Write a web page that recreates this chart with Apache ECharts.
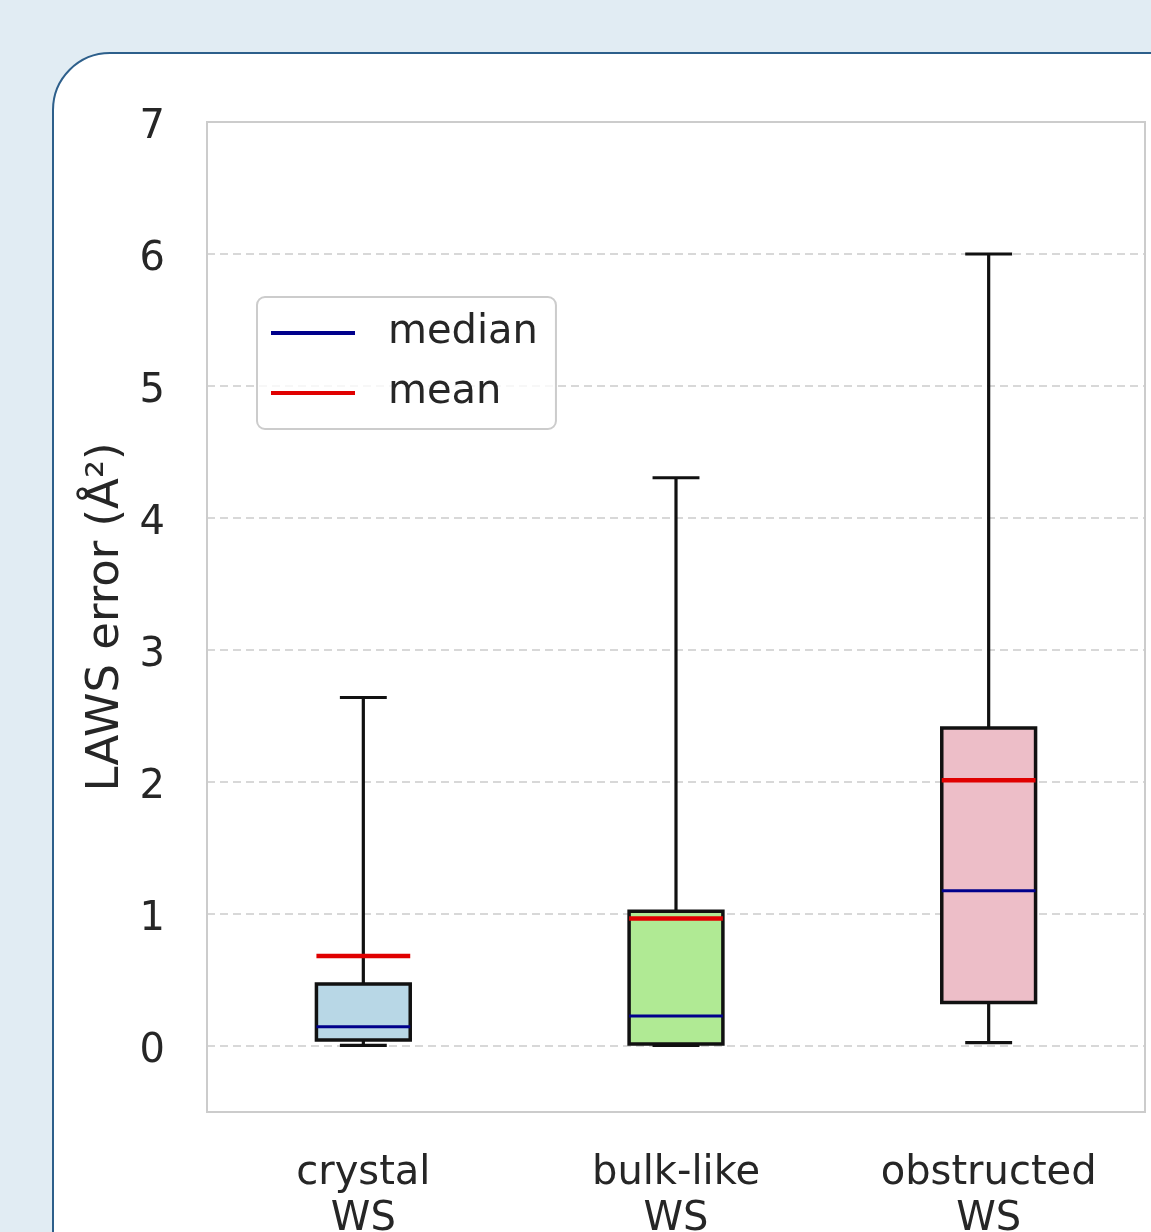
<!DOCTYPE html>
<html>
<head>
<meta charset="utf-8">
<script src="https://cdn.jsdelivr.net/npm/echarts@6/dist/echarts.min.js"></script>
<style>
  html, body { margin: 0; padding: 0; width: 1151px; height: 1232px; overflow: hidden; background: #e1ecf3; }
  #panel {
    position: absolute; left: 52px; top: 52px; width: 1300px; height: 1400px;
    background: #ffffff; border: 2.5px solid #2d5f8b; border-radius: 58px; box-sizing: border-box;
  }
  #chart { position: absolute; left: 0; top: 0; width: 1151px; height: 1232px; }
</style>
</head>
<body>
<div id="panel"></div>
<div id="chart"></div>
<script>
// Categories and per-group statistics (LAWS error, Å²)
const categories = ['crystal\nWS', 'bulk-like\nWS', 'obstructed\nWS'];
const whiskerLow = [0.005, 0.004, 0.025];
const quartile1 = [0.045, 0.015, 0.33];
const medians = [0.145, 0.228, 1.177];
const quartile3 = [0.47, 1.02, 2.41];
const whiskerHigh = [2.64, 4.305, 6.0];
const means = [0.682, 0.965, 2.013];
const gridValues = [0, 1, 2, 3, 4, 5, 6];

const boxFills = ['#b8d7e6', '#b0ea94', '#edbec8'];
const FONT = 'DejaVu Sans';
const TEXT = '#262626';
const BOX_FRAC = 0.3;

const chart = echarts.init(document.getElementById('chart'), null, { renderer: 'canvas' });

function renderGrid(params, api) {
  const cs = params.coordSys;
  const y = api.coord([0, api.value(0)])[1];
  return {
    type: 'line',
    shape: { x1: cs.x, y1: y, x2: cs.x + cs.width, y2: y },
    style: { stroke: '#cccccc', lineWidth: 1.6, lineDash: [8, 5] }
  };
}

function renderBox(params, api) {
  const i = api.value(0);
  const lo = api.coord([i, api.value(1)]);
  const q1 = api.coord([i, api.value(2)]);
  const q3 = api.coord([i, api.value(4)]);
  const hi = api.coord([i, api.value(5)]);
  const bw = api.size([1, 0])[0] * BOX_FRAC;
  const x = lo[0];
  const stroke = { stroke: '#111111', lineWidth: 3.2 };
  return {
    type: 'group',
    children: [
      { type: 'line', shape: { x1: x, y1: hi[1], x2: x, y2: q3[1] }, style: stroke },
      { type: 'line', shape: { x1: x, y1: q1[1], x2: x, y2: lo[1] }, style: stroke },
      { type: 'line', shape: { x1: x - bw / 4, y1: hi[1], x2: x + bw / 4, y2: hi[1] }, style: stroke },
      { type: 'line', shape: { x1: x - bw / 4, y1: lo[1], x2: x + bw / 4, y2: lo[1] }, style: stroke },
      { type: 'rect', shape: { x: x - bw / 2, y: q3[1], width: bw, height: q1[1] - q3[1] },
        style: { fill: boxFills[i], stroke: '#111111', lineWidth: 3.5 } }
    ]
  };
}

function lineRenderer(color, width) {
  return function (params, api) {
    const i = api.value(0);
    const p = api.coord([i, api.value(1)]);
    const bw = api.size([1, 0])[0] * BOX_FRAC;
    return {
      type: 'line',
      shape: { x1: p[0] - bw / 2, y1: p[1], x2: p[0] + bw / 2, y2: p[1] },
      style: { stroke: color, lineWidth: width }
    };
  };
}

const option = {
  backgroundColor: 'transparent',
  animation: false,
  grid: {
    left: 207, top: 122, right: 6, bottom: 120,
    outerBoundsMode: 'none', containLabel: false,
    show: true, borderColor: '#cccccc', borderWidth: 2, backgroundColor: 'transparent'
  },
  legend: {
    left: 257, top: 297, orient: 'vertical',
    data: [{ name: 'median', icon: 'rect' }, { name: 'mean', icon: 'rect' }],
    itemWidth: 84, itemHeight: 4, itemGap: 14,
    padding: [13, 18, 13, 14],
    backgroundColor: 'rgba(255,255,255,0.8)',
    borderColor: '#cccccc', borderWidth: 2, borderRadius: 8,
    textStyle: { fontFamily: FONT, fontSize: 40, color: TEXT, lineHeight: 46, padding: [0, 0, 0, 28] }
  },
  xAxis: {
    type: 'category',
    data: categories,
    boundaryGap: true,
    axisLine: { show: false },
    axisTick: { show: false },
    splitLine: { show: false },
    axisLabel: { fontFamily: FONT, fontSize: 40, color: TEXT, lineHeight: 46, margin: 39 }
  },
  yAxis: {
    type: 'value',
    min: -0.5, max: 7, interval: 0.5,
    axisLine: { show: false },
    axisTick: { show: false },
    splitLine: { show: false },
    axisLabel: {
      fontFamily: FONT, fontSize: 40, color: TEXT, margin: 42,
      formatter: v => (Number.isInteger(v) && v >= 0) ? '{t|' + v + '}' : '',
      rich: { t: { fontFamily: FONT, fontSize: 40, color: TEXT, padding: [12, 0, 0, 0] } }
    },
    name: 'LAWS error (Å²)',
    nameLocation: 'middle',
    nameGap: 78,
    nameTextStyle: { fontFamily: FONT, fontSize: 45, color: TEXT }
  },
  series: [
    {
      type: 'custom', name: 'grid', z: 1, silent: true,
      renderItem: renderGrid,
      data: gridValues.map(v => [v]),
      encode: { y: 0 }
    },
    {
      type: 'custom', name: 'box', z: 2, silent: true,
      renderItem: renderBox,
      data: categories.map((c, i) => [i, whiskerLow[i], quartile1[i], medians[i], quartile3[i], whiskerHigh[i]]),
      encode: { x: 0, y: [1, 2, 3, 4, 5] }
    },
    {
      type: 'custom', name: 'median', z: 3, silent: true,
      itemStyle: { color: '#00008b' },
      renderItem: lineRenderer('#00008b', 3),
      data: categories.map((c, i) => [i, medians[i]]),
      encode: { x: 0, y: 1 }
    },
    {
      type: 'custom', name: 'mean', z: 4, silent: true,
      itemStyle: { color: '#e00000' },
      renderItem: lineRenderer('#e00000', 4.5),
      data: categories.map((c, i) => [i, means[i]]),
      encode: { x: 0, y: 1 }
    }
  ]
};

chart.setOption(option);
</script>
</body>
</html>
